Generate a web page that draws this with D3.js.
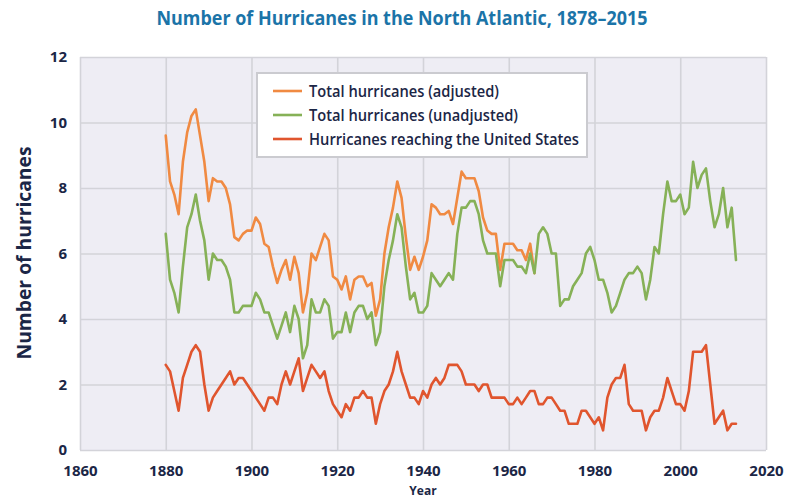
<!DOCTYPE html>
<html><head><meta charset="utf-8">
<script src="https://cdn.jsdelivr.net/npm/d3@7"></script>
<style>body{margin:0;background:#fff;} svg{display:block;}</style>
</head><body>
<svg id="chart" width="811" height="500"></svg>
<script>
// ---------- DATA ----------
const firstYear = 1880;
const xTicks = [1860, 1880, 1900, 1920, 1940, 1960, 1980, 2000, 2020];
const yTicks = [0, 2, 4, 6, 8, 10, 12];
const seriesNames = ["Total hurricanes (adjusted)", "Total hurricanes (unadjusted)", "Hurricanes reaching the United States"];

// Total hurricanes (adjusted), 1880–1966 (identical to unadjusted afterwards)
const adjusted = [
  9.6, 8.2, 7.8, 7.2, 8.8, 9.7, 10.2, 10.4, 9.6, 8.8,
  7.6, 8.3, 8.2, 8.2, 8.0, 7.5, 6.5, 6.4, 6.6, 6.7,
  6.7, 7.1, 6.9, 6.3, 6.2, 5.6, 5.1, 5.5, 5.8, 5.2,
  5.9, 5.4, 4.2, 4.8, 6.0, 5.8, 6.2, 6.6, 6.4, 5.3,
  5.2, 4.9, 5.3, 4.6, 5.2, 5.3, 5.3, 5.0, 5.1, 4.1,
  4.6, 6.0, 6.8, 7.4, 8.2, 7.7, 6.5, 5.5, 5.9, 5.5,
  5.9, 6.4, 7.5, 7.4, 7.2, 7.2, 7.3, 6.9, 7.7, 8.5,
  8.3, 8.3, 8.3, 7.9, 7.1, 6.7, 6.6, 6.6, 5.5, 6.3,
  6.3, 6.3, 6.1, 6.1, 5.8, 6.3, 5.4
];

// Total hurricanes (unadjusted), 1880–2013
const unadjusted = [
  6.6, 5.2, 4.8, 4.2, 5.6, 6.8, 7.2, 7.8, 7.0, 6.4,
  5.2, 6.0, 5.8, 5.8, 5.6, 5.2, 4.2, 4.2, 4.4, 4.4,
  4.4, 4.8, 4.6, 4.2, 4.2, 3.8, 3.4, 3.8, 4.2, 3.6,
  4.4, 4.0, 2.8, 3.2, 4.6, 4.2, 4.2, 4.6, 4.4, 3.4,
  3.6, 3.6, 4.2, 3.6, 4.2, 4.4, 4.4, 4.0, 4.2, 3.2,
  3.6, 5.0, 5.8, 6.4, 7.2, 6.8, 5.6, 4.6, 4.8, 4.2,
  4.2, 4.4, 5.4, 5.2, 5.0, 5.2, 5.4, 5.2, 6.6, 7.4,
  7.4, 7.6, 7.6, 7.2, 6.4, 6.0, 6.0, 6.0, 5.0, 5.8,
  5.8, 5.8, 5.6, 5.6, 5.4, 6.0, 5.4, 6.6, 6.8, 6.6,
  6.0, 6.0, 4.4, 4.6, 4.6, 5.0, 5.2, 5.4, 6.0, 6.2,
  5.8, 5.2, 5.2, 4.8, 4.2, 4.4, 4.8, 5.2, 5.4, 5.4,
  5.6, 5.4, 4.6, 5.2, 6.2, 6.0, 7.2, 8.2, 7.6, 7.6,
  7.8, 7.2, 7.4, 8.8, 8.0, 8.4, 8.6, 7.6, 6.8, 7.2,
  8.0, 6.8, 7.4, 5.8
];

// Hurricanes reaching the United States, 1880–2013
const usLandfall = [
  2.6, 2.4, 1.8, 1.2, 2.2, 2.6, 3.0, 3.2, 3.0, 2.0,
  1.2, 1.6, 1.8, 2.0, 2.2, 2.4, 2.0, 2.2, 2.2, 2.0,
  1.8, 1.6, 1.4, 1.2, 1.6, 1.6, 1.4, 2.0, 2.4, 2.0,
  2.4, 2.8, 1.8, 2.2, 2.6, 2.4, 2.2, 2.4, 1.8, 1.4,
  1.2, 1.0, 1.4, 1.2, 1.6, 1.6, 1.8, 1.6, 1.6, 0.8,
  1.4, 1.8, 2.0, 2.4, 3.0, 2.4, 2.0, 1.6, 1.6, 1.4,
  1.8, 1.6, 2.0, 2.2, 2.0, 2.2, 2.6, 2.6, 2.6, 2.4,
  2.0, 2.0, 2.0, 1.8, 2.0, 2.0, 1.6, 1.6, 1.6, 1.6,
  1.4, 1.4, 1.6, 1.4, 1.6, 1.8, 1.8, 1.4, 1.4, 1.6,
  1.6, 1.4, 1.2, 1.2, 0.8, 0.8, 0.8, 1.2, 1.2, 1.0,
  0.8, 1.0, 0.6, 1.6, 2.0, 2.2, 2.2, 2.6, 1.4, 1.2,
  1.2, 1.2, 0.6, 1.0, 1.2, 1.2, 1.6, 2.2, 1.8, 1.4,
  1.4, 1.2, 1.8, 3.0, 3.0, 3.0, 3.2, 2.0, 0.8, 1.0,
  1.2, 0.6, 0.8, 0.8
];

const colors = ["#f08a42", "#86b157", "#e0552e"];

// ---------- CHART ----------
const svg = d3.select("#chart");
const x = d3.scaleLinear().domain([1860, 2020]).range([80, 766]);
const y = d3.scaleLinear().domain([0, 12]).range([450, 57]);
const W = x(2020) - x(1860), H = y(0) - y(12);
const navy = "#1b2646";
const grid = "#d3d3d9";

svg.append("rect").attr("x", x(1860)).attr("y", y(12)).attr("width", W).attr("height", H).attr("fill", "#eeedf4");

const gx = svg.append("g").attr("transform", `translate(0,${y(0)})`)
  .call(d3.axisBottom(x).tickValues(xTicks).tickFormat(d3.format("d")).tickSize(-H).tickPadding(15));
gx.select(".domain").remove();
gx.selectAll(".tick line").attr("stroke", grid).attr("stroke-width", 1.6);
gx.selectAll(".tick text").attr("fill", navy).attr("font-family", "Open Sans").attr("font-weight", 700).attr("font-size", 15);

const gy = svg.append("g").attr("transform", `translate(${x(1860)},0)`)
  .call(d3.axisLeft(y).tickValues(yTicks).tickFormat(d3.format("d")).tickSize(-W).tickPadding(13));
gy.select(".domain").remove();
gy.selectAll(".tick line").attr("stroke", grid).attr("stroke-width", 1.6);
gy.selectAll(".tick text").attr("fill", navy).attr("font-family", "Open Sans").attr("font-weight", 700).attr("font-size", 15);

// lines
const line = d3.line().x((d, i) => x(firstYear + i)).y(d => y(d));
[adjusted, unadjusted, usLandfall].forEach((s, k) => {
  svg.append("path").datum(s).attr("d", line).attr("fill", "none")
    .attr("stroke", colors[k]).attr("stroke-width", 2.6)
    .attr("stroke-linejoin", "round").attr("stroke-linecap", "round");
});

// title
svg.append("text").attr("x", 402).attr("y", 25).attr("text-anchor", "middle")
  .attr("font-family", "Open Sans").attr("font-weight", 700).attr("font-size", 19)
  .attr("fill", "#1b74a8").attr("textLength", 491).attr("lengthAdjust", "spacingAndGlyphs")
  .text("Number of Hurricanes in the North Atlantic, 1878–2015");

// axis titles
svg.append("text").attr("transform", "translate(31,253) rotate(-90)").attr("text-anchor", "middle")
  .attr("font-family", "Open Sans").attr("font-weight", 700).attr("font-size", 20)
  .attr("fill", navy).attr("textLength", 213).attr("lengthAdjust", "spacingAndGlyphs")
  .text("Number of hurricanes");
svg.append("text").attr("x", 423).attr("y", 495).attr("text-anchor", "middle")
  .attr("font-family", "Open Sans").attr("font-weight", 700).attr("font-size", 12)
  .attr("fill", navy).text("Year");

// legend
const lg = svg.append("g");
lg.append("rect").attr("x", 257).attr("y", 73).attr("width", 330).attr("height", 84)
  .attr("fill", "#ffffff").attr("stroke", "#cbcbd0").attr("stroke-width", 2);
const legendLen = [190, 209, 270];
seriesNames.forEach((n, i) => {
  const yy = 91 + i * 24;
  lg.append("line").attr("x1", 273).attr("x2", 302).attr("y1", yy).attr("y2", yy)
    .attr("stroke", colors[i]).attr("stroke-width", 2.6);
  lg.append("text").attr("x", 309).attr("y", yy + 6)
    .attr("font-family", "Open Sans").attr("font-size", 16).attr("font-weight", 600)
    .attr("fill", navy).attr("textLength", legendLen[i]).attr("lengthAdjust", "spacingAndGlyphs")
    .text(n);
});
</script>
</body></html>
